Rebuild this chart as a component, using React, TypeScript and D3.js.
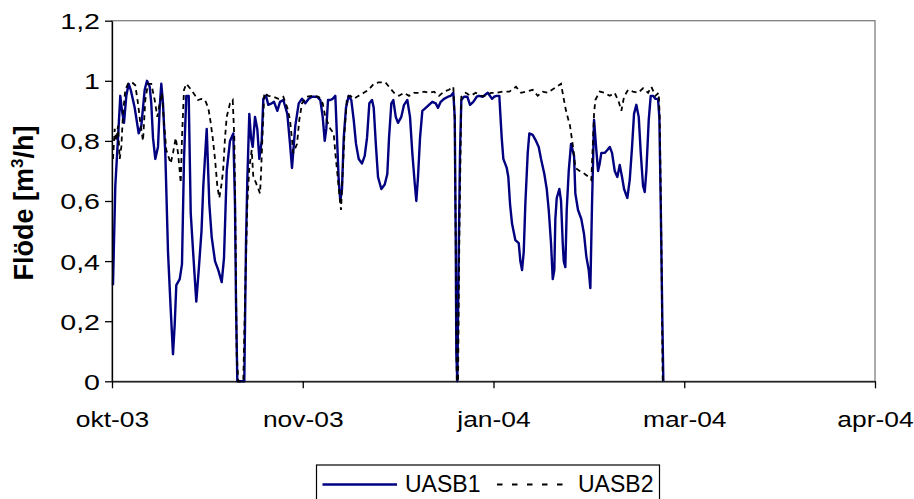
import React, { useRef, useEffect } from 'react';
import * as d3 from 'd3';

// [days since 1 okt 2003, flow m3/h]
const uasb1: [number, number][] = [
  [0.27, 0.32], [0.9, 0.65], [1.64, 0.81], [2.26, 0.95], [2.73, 0.9], [3.27, 0.86], [3.9, 0.95],
  [4.55, 0.99], [5.1, 0.97], [6.19, 0.91], [7.28, 0.825], [7.99, 0.85], [8.91, 0.97], [9.54, 1.0],
  [10.28, 0.98], [10.71, 0.925], [11.18, 0.81], [11.8, 0.74], [12.54, 0.78], [13.0, 0.91],
  [13.44, 0.99], [13.9, 0.925], [14.53, 0.76], [15.27, 0.43], [16.0, 0.24], [16.63, 0.09],
  [17.1, 0.19], [17.53, 0.32], [18.46, 0.34], [19.08, 0.39], [19.63, 0.74], [20.26, 0.95],
  [20.91, 0.95], [21.46, 0.56], [22.27, 0.4], [22.98, 0.265], [23.64, 0.37], [24.4, 0.5],
  [24.89, 0.65], [25.82, 0.84], [26.53, 0.59], [27.18, 0.48], [28.08, 0.4], [28.98, 0.37],
  [29.91, 0.33], [30.53, 0.41], [31.27, 0.7], [32.17, 0.8], [33.07, 0.825], [33.53, 0.59],
  [33.81, 0.26], [34.16, 0], [36.07, 0], [36.53, 0.46], [36.89, 0.67], [37.43, 0.89],
  [37.9, 0.81], [38.36, 0.78], [38.99, 0.88], [39.61, 0.84], [40.16, 0.74], [40.81, 0.8],
  [41.25, 0.94], [41.98, 0.95], [42.61, 0.92], [43.54, 0.925], [44.17, 0.93], [45.07, 0.9],
  [45.8, 0.93], [46.7, 0.936], [47.79, 0.89], [48.53, 0.79], [49.07, 0.71], [49.97, 0.85],
  [50.9, 0.925], [51.8, 0.94], [52.7, 0.925], [53.63, 0.94], [54.53, 0.947], [55.89, 0.947],
  [56.79, 0.936], [57.44, 0.88], [57.99, 0.8], [58.42, 0.84], [58.89, 0.936], [59.51, 0.936],
  [60.17, 0.94], [60.88, 0.95], [61.34, 0.81], [61.8, 0.67], [62.24, 0.6], [62.7, 0.64],
  [63.17, 0.81], [63.79, 0.91], [64.53, 0.95], [65.24, 0.936], [65.89, 0.87], [66.52, 0.79],
  [67.26, 0.74], [68.16, 0.725], [68.89, 0.75], [69.52, 0.81], [70.15, 0.925], [70.88, 0.936],
  [71.35, 0.91], [71.97, 0.78], [72.52, 0.68], [73.42, 0.64], [74.35, 0.655], [75.05, 0.69],
  [75.52, 0.81], [76.15, 0.925], [76.69, 0.936], [77.35, 0.88], [77.97, 0.86], [78.87, 0.88],
  [79.61, 0.92], [80.51, 0.936], [81.24, 0.88], [81.87, 0.76], [82.52, 0.66], [82.96, 0.6],
  [83.42, 0.68], [83.97, 0.81], [84.6, 0.9], [85.52, 0.91], [86.42, 0.92], [87.32, 0.93],
  [88.25, 0.925], [88.88, 0.91], [89.61, 0.93], [90.51, 0.94], [91.6, 0.947], [92.34, 0.95],
  [93.05, 0.96], [93.43, 0.88], [93.7, 0.48], [93.87, 0.09], [94.14, 0], [94.52, 0.43],
  [94.87, 0.76], [95.23, 0.936], [95.97, 0.947], [96.86, 0.947], [97.6, 0.92], [98.5, 0.93],
  [99.43, 0.947], [100.05, 0.95], [101.06, 0.947], [102.43, 0.96], [103.6, 0.94], [104.22, 0.947],
  [104.88, 0.95], [105.59, 0.95], [105.86, 0.89], [106.24, 0.81], [106.68, 0.74], [107.61, 0.71],
  [108.04, 0.68], [108.51, 0.59], [109.05, 0.525], [109.95, 0.47], [110.88, 0.46], [111.32, 0.4],
  [111.78, 0.37], [112.24, 0.43], [112.68, 0.59], [113.33, 0.76], [113.77, 0.825], [114.69, 0.82],
  [115.59, 0.8], [116.33, 0.78], [116.96, 0.74], [117.86, 0.69], [118.51, 0.64], [119.06, 0.57],
  [119.68, 0.46], [120.15, 0.34], [120.58, 0.37], [120.86, 0.54], [121.24, 0.61], [121.95, 0.64],
  [122.41, 0.6], [122.87, 0.46], [123.15, 0.4], [123.58, 0.38], [123.96, 0.57], [124.51, 0.7],
  [125.14, 0.79], [125.96, 0.75], [126.31, 0.625], [127.04, 0.57], [127.94, 0.54], [128.68, 0.49],
  [129.31, 0.415], [129.96, 0.37], [130.4, 0.31], [130.86, 0.59], [131.41, 0.87], [132.03, 0.77],
  [132.5, 0.7], [132.96, 0.725], [133.4, 0.76], [134.32, 0.76], [135.03, 0.77], [135.69, 0.78],
  [136.31, 0.76], [137.05, 0.7], [137.76, 0.68], [138.41, 0.72], [139.04, 0.68], [139.59, 0.64],
  [140.49, 0.61], [141.14, 0.67], [141.77, 0.78], [142.31, 0.89], [142.94, 0.92], [143.59, 0.88],
  [144.14, 0.76], [144.77, 0.65], [145.23, 0.63], [145.67, 0.7], [146.32, 0.87], [146.86, 0.95],
  [147.49, 0.95], [148.12, 0.94], [148.85, 0.94], [149.21, 0.88], [149.59, 0.59], [150.03, 0.2],
  [150.3, 0],
];

const uasb2: [number, number][] = [
  [0.27, 0.74], [0.74, 0.84], [1.17, 0.8], [1.64, 0.85], [2.1, 0.74], [2.54, 0.78], [3.0, 0.89],
  [3.63, 0.97], [4.36, 0.99], [5.45, 0.995], [6.35, 0.985], [7.09, 0.925], [7.72, 0.86],
  [8.45, 0.8], [9.08, 0.936], [9.81, 0.99], [10.71, 0.99], [11.64, 0.936], [12.35, 0.88],
  [13.0, 0.925], [13.63, 0.96], [14.18, 0.86], [14.8, 0.77], [16.0, 0.725], [16.63, 0.76],
  [17.37, 0.81], [17.99, 0.76], [18.46, 0.7], [18.73, 0.66], [19.08, 0.81], [19.63, 0.97],
  [20.26, 0.99], [21.62, 0.97], [22.71, 0.95], [23.45, 0.936], [24.35, 0.94], [25.35, 0.936],
  [26.25, 0.91], [26.91, 0.86], [27.45, 0.81], [28.08, 0.74], [28.71, 0.65], [29.25, 0.61],
  [29.91, 0.66], [30.34, 0.71], [30.81, 0.81], [31.27, 0.88], [32.17, 0.925], [32.91, 0.936],
  [33.34, 0.81], [33.72, 0.43], [33.99, 0.09], [34.43, 0], [35.79, 0], [36.45, 0.37],
  [36.89, 0.59], [37.43, 0.71], [38.09, 0.77], [38.52, 0.68], [39.26, 0.66], [39.89, 0.64],
  [40.35, 0.625], [40.62, 0.69], [41.09, 0.84], [41.52, 0.96], [42.61, 0.95], [43.98, 0.947],
  [45.34, 0.94], [46.7, 0.947], [47.79, 0.91], [48.53, 0.87], [49.43, 0.76], [50.44, 0.79],
  [51.06, 0.87], [51.8, 0.925], [53.16, 0.947], [54.53, 0.95], [56.35, 0.947], [57.44, 0.925],
  [58.15, 0.88], [59.51, 0.84], [60.44, 0.825], [60.88, 0.76], [61.53, 0.68], [62.08, 0.61],
  [62.43, 0.57], [62.9, 0.7], [63.44, 0.84], [64.07, 0.947], [64.97, 0.95], [65.89, 0.94],
  [67.26, 0.95], [68.62, 0.96], [69.98, 0.97], [71.35, 0.99], [72.71, 0.995], [74.51, 0.995],
  [75.52, 0.98], [76.88, 0.96], [78.24, 0.95], [79.61, 0.96], [80.97, 0.95], [82.33, 0.96],
  [83.7, 0.96], [85.06, 0.964], [86.42, 0.96], [87.79, 0.964], [89.15, 0.95], [90.51, 0.964],
  [91.88, 0.97], [93.05, 0.98], [93.43, 0.87], [93.7, 0.48], [93.98, 0], [94.33, 0],
  [94.69, 0.48], [95.23, 0.947], [96.43, 0.96], [97.79, 0.95], [99.15, 0.96], [100.6, 0.95],
  [101.96, 0.95], [103.33, 0.96], [104.69, 0.96], [106.52, 0.964], [108.32, 0.964], [110.14, 0.98],
  [111.51, 0.96], [112.87, 0.964], [114.69, 0.97], [116.05, 0.95], [117.42, 0.964], [118.78, 0.96],
  [120.58, 0.975], [122.41, 0.99], [123.04, 0.947], [123.77, 0.9], [124.86, 0.85], [125.68, 0.78],
  [126.31, 0.71], [127.5, 0.7], [128.87, 0.69], [129.96, 0.68], [130.67, 0.67], [131.05, 0.78],
  [131.41, 0.89], [131.76, 0.936], [132.96, 0.964], [134.32, 0.96], [135.69, 0.95], [137.05, 0.96],
  [138.14, 0.93], [138.86, 0.9], [139.59, 0.947], [140.68, 0.97], [142.04, 0.964], [143.41, 0.96],
  [144.77, 0.975], [146.13, 0.96], [147.03, 0.98], [148.12, 0.95], [149.05, 0.96], [149.32, 0.87],
  [149.75, 0.48], [150.13, 0],
];

const seriesNames = ['UASB1', 'UASB2'];
const yTicks = [0, 0.2, 0.4, 0.6, 0.8, 1, 1.2];
const xTickDays = [0, 52, 104, 156, 208];
const xTickLabels = ['okt-03', 'nov-03', 'jan-04', 'mar-04', 'apr-04'];

const FONT = '"Liberation Sans", Arial, sans-serif';

const App = () => {
  const svgRef = useRef<SVGSVGElement>(null);

  useEffect(() => {
    const width = 914;
    const height = 499;
    const left = 112;
    const right = 875;
    const top = 20.7;
    const bottom = 381.3;

    const svg = d3.select(svgRef.current)
      .attr('width', width)
      .attr('height', height);
    svg.selectAll('*').remove();

    const x = d3.scaleLinear().domain([0, 208]).range([left, right]);
    const y = d3.scaleLinear().domain([0, 1.2]).range([bottom, top]);

    // plot area frame (grey), axes drawn on top in black
    svg.append('rect')
      .attr('x', left).attr('y', top)
      .attr('width', right - left).attr('height', bottom - top)
      .attr('fill', 'none')
      .attr('stroke', '#808080')
      .attr('stroke-width', 1.3);

    const line = d3.line<[number, number]>()
      .x(d => x(d[0]))
      .y(d => y(d[1]));

    svg.append('path')
      .datum(uasb1)
      .attr('d', line)
      .attr('fill', 'none')
      .attr('stroke', '#000080')
      .attr('stroke-width', 2.4)
      .attr('stroke-linejoin', 'round');

    svg.append('path')
      .datum(uasb2)
      .attr('d', line)
      .attr('fill', 'none')
      .attr('stroke', '#000')
      .attr('stroke-width', 1.8)
      .attr('stroke-dasharray', '5,4');

    // y axis
    const yAxis = svg.append('g')
      .attr('transform', `translate(${left},0)`)
      .call(d3.axisLeft(y)
        .tickValues(yTicks)
        .tickSize(7)
        .tickSizeOuter(0)
        .tickFormat(d => String(d).replace('.', ',')));
    yAxis.select('.domain').attr('stroke', '#000').attr('stroke-width', 1.3);
    yAxis.selectAll('line').attr('stroke', '#000').attr('stroke-width', 1.3);
    yAxis.selectAll('text')
      .attr('x', -12 / 1.3)
      .attr('dy', '0.36em')
      .attr('transform', 'scale(1.3,1)')
      .style('font-family', FONT)
      .style('font-size', '22px')
      .attr('fill', '#000');

    // x axis
    const xAxis = svg.append('g')
      .attr('transform', `translate(0,${bottom})`)
      .call(d3.axisBottom(x)
        .tickValues(xTickDays)
        .tickSize(7)
        .tickSizeOuter(0)
        .tickFormat((d, i) => xTickLabels[i]));
    xAxis.select('.domain').attr('stroke', '#000').attr('stroke-width', 1.3);
    xAxis.selectAll('line').attr('stroke', '#000').attr('stroke-width', 1.3);
    xAxis.selectAll('text')
      .attr('y', 46)
      .attr('dy', null)
      .attr('transform', 'scale(1.2,1)')
      .style('font-family', FONT)
      .style('font-size', '22px')
      .attr('fill', '#000');

    // y title
    const title = svg.append('text')
      .attr('transform', 'translate(33,203) rotate(-90)')
      .attr('text-anchor', 'middle')
      .style('font-family', FONT)
      .style('font-size', '27px')
      .style('font-weight', 'bold');
    title.append('tspan').text('Flöde [m');
    title.append('tspan').text('3').attr('dy', -10).style('font-size', '17px');
    title.append('tspan').text('/h]').attr('dy', 10);

    // legend
    const lg = svg.append('g');
    lg.append('rect')
      .attr('x', 316.5).attr('y', 465)
      .attr('width', 343).attr('height', 48)
      .attr('fill', '#fff')
      .attr('stroke', '#000')
      .attr('stroke-width', 1.2);
    lg.append('line')
      .attr('x1', 322.5).attr('x2', 397).attr('y1', 484.5).attr('y2', 484.5)
      .attr('stroke', '#000080').attr('stroke-width', 2.4);
    lg.append('text')
      .attr('x', 405).attr('y', 492)
      .style('font-family', FONT).style('font-size', '23px')
      .text(seriesNames[0]);
    lg.append('line')
      .attr('x1', 497).attr('x2', 563).attr('y1', 484.5).attr('y2', 484.5)
      .attr('stroke', '#000').attr('stroke-width', 1.8)
      .attr('stroke-dasharray', '5.5,9.5');
    lg.append('text')
      .attr('x', 578).attr('y', 492)
      .style('font-family', FONT).style('font-size', '23px')
      .text(seriesNames[1]);
  }, []);

  return (
    <svg ref={svgRef} style={{ position: 'absolute', left: 0, top: 0, background: '#fff' }}></svg>
  );
};

export default App;
